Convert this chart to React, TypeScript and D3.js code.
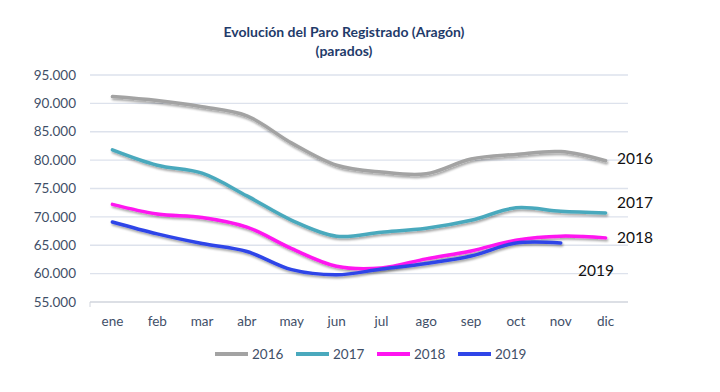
import React from 'react';
import * as d3 from 'd3';

const months = ['ene', 'feb', 'mar', 'abr', 'may', 'jun', 'jul', 'ago', 'sep', 'oct', 'nov', 'dic'];
const yTicks = [55000, 60000, 65000, 70000, 75000, 80000, 85000, 90000, 95000];

const s2016 = [91200, 90500, 89400, 87800, 83000, 79100, 77900, 77600, 80200, 81000, 81500, 79900];
const s2017 = [81800, 79100, 77700, 73700, 69400, 66600, 67300, 68000, 69400, 71600, 71000, 70700];
const s2018 = [72200, 70500, 69900, 68200, 64400, 61300, 61000, 62600, 64000, 65900, 66600, 66300];
const s2019 = [69100, 67000, 65300, 63900, 60700, 59800, 60800, 61800, 63100, 65400, 65400];

const series = [
  { name: '2016', values: s2016, color: '#a3a3a3' },
  { name: '2017', values: s2017, color: '#4aa9bd' },
  { name: '2018', values: s2018, color: '#ff14f0' },
  { name: '2019', values: s2019, color: '#2f45e8' },
];

const margin = { top: 75, right: 92, bottom: 90, left: 90 };
const W = 720, H = 392;

const App = () => {
  const x = d3.scaleBand().domain(months).range([margin.left, W - margin.right]);
  const y = d3.scaleLinear().domain([55000, 95000]).range([302, 75]);
  const fmt = (v: number) => d3.format(',')(v).replace(/,/g, '.');
  const cx = (i: number) => (x(months[i]) as number) + x.bandwidth() / 2;
  const line = d3.line<number>()
    .x((d, i) => cx(i))
    .y(d => y(d))
    .curve(d3.curveCatmullRom.alpha(0.5));

  const font = 'Lato, "Open Sans", sans-serif';
  const txt = '#3f4f68';

  const endLabels = [
    { name: '2016', x: 617, y: 164 },
    { name: '2017', x: 617, y: 208 },
    { name: '2018', x: 617, y: 243 },
    { name: '2019', x: 578, y: 276 },
  ];

  return (
    <svg width={W} height={H} style={{ position: 'absolute', left: 0, top: 0 }} fontFamily={font}>
      <defs>
        <filter id="sh" x="-10%" y="-10%" width="120%" height="130%">
          <feDropShadow dx="1" dy="2" stdDeviation="1.3" floodColor="#000" floodOpacity="0.35" />
        </filter>
      </defs>
      <rect width={W} height={H} fill="#fff" />
      <text x={344} y={37} textAnchor="middle" fontSize={14} fontWeight="bold" fill="#1f3b6a">
        Evolución del Paro Registrado (Aragón)
      </text>
      <text x={344} y={56} textAnchor="middle" fontSize={14} fontWeight="bold" fill="#1f3b6a">
        (parados)
      </text>
      {yTicks.map(t => (
        <g key={t}>
          <line x1={margin.left} x2={W - margin.right} y1={y(t)} y2={y(t)}
            stroke={t === 55000 ? '#d0d4dc' : '#dde2ec'} strokeWidth={1.3} />
          <text x={76} y={y(t)} dy="0.35em" textAnchor="end" fontSize={13.5} fill={txt}>{fmt(t)}</text>
        </g>
      ))}
      <line x1={margin.left} x2={margin.left} y1={302} y2={307} stroke="#d0d4dc" />
      {months.map((m, i) => (
        <text key={m} x={cx(i)} y={326} textAnchor="middle" fontSize={13.5} fill={txt}>{m}</text>
      ))}
      {series.map(s => (
        <path key={s.name} d={line(s.values) as string} fill="none" stroke={s.color}
          strokeWidth={3.5} strokeLinecap="round" filter="url(#sh)" />
      ))}
      {endLabels.map(l => (
        <text key={l.name} x={l.x} y={l.y} fontSize={15.5} fill="#111">{l.name}</text>
      ))}
      {series.map((s, i) => {
        const lx = 215 + i * 81;
        return (
          <g key={s.name}>
            <line x1={lx} x2={lx + 33} y1={354} y2={354} stroke={s.color} strokeWidth={4} />
            <text x={lx + 37} y={354} dy="0.35em" fontSize={13.5} fill={txt}>{s.name}</text>
          </g>
        );
      })}
    </svg>
  );
};

export default App;
